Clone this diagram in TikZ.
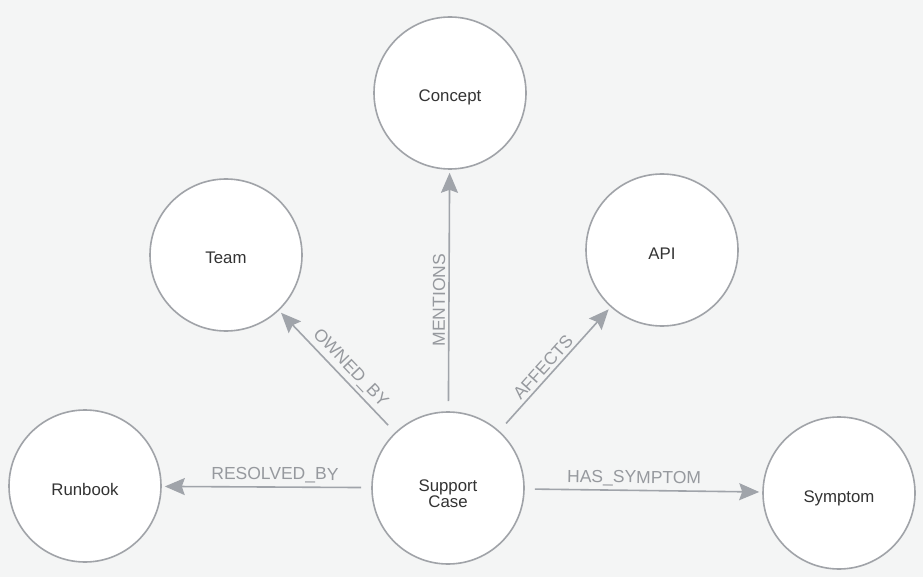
\documentclass[tikz,border=0pt]{standalone}
\usepackage{fontspec}
\setmainfont{Liberation Sans}
\usetikzlibrary{arrows.meta}
\definecolor{bgc}{RGB}{244,245,245}
\definecolor{nodeline}{RGB}{160,163,168}
\definecolor{edgec}{RGB}{160,164,170}
\definecolor{labelc}{RGB}{150,153,158}
\definecolor{nodetext}{RGB}{51,51,51}
\tikzset{
  entity/.style={circle, draw=nodeline, line width=1.6pt, fill=white, minimum size=152pt, inner sep=0pt,
    text=nodetext, font=\fontsize{16.8}{16}\selectfont, align=center, text depth=0pt, text height=18pt},
  rel/.style={draw=edgec, line width=1.6pt, -{Stealth[length=20pt,width=17pt,inset=3pt]},
    shorten <=10pt, shorten >=3pt},
  rellabel/.style={text=labelc, font=\fontsize{17.5}{18}\selectfont, sloped, above=2pt, inner sep=1pt, pos=0.46}
}
\begin{document}
\begin{tikzpicture}[x=1pt,y=-1pt]
\fill[bgc] (0,0) rectangle (923,577);
\useasboundingbox (0,0) rectangle (923,577);
\node[entity] (concept) at (450,93) {Concept};
\node[entity] (team) at (226,255) {Team};
\node[entity] (api) at (662,250) {API};
\node[entity] (runbook) at (85,486) {Runbook};
\node[entity, text height=38pt] (sc) at (448,488) {Support\\Case};
\node[entity] (symptom) at (839,493) {Symptom};
\draw[rel] (sc) -- node[rellabel] {RESOLVED\_BY} (runbook);
\draw[rel] (sc) -- node[rellabel] {HAS\_SYMPTOM} (symptom);
\draw[rel] (sc) -- node[rellabel] {MENTIONS} (concept);
\draw[rel] (sc) -- node[rellabel] {OWNED\_BY} (team);
\draw[rel] (sc) -- node[rellabel] {AFFECTS} (api);
\end{tikzpicture}
\end{document}
